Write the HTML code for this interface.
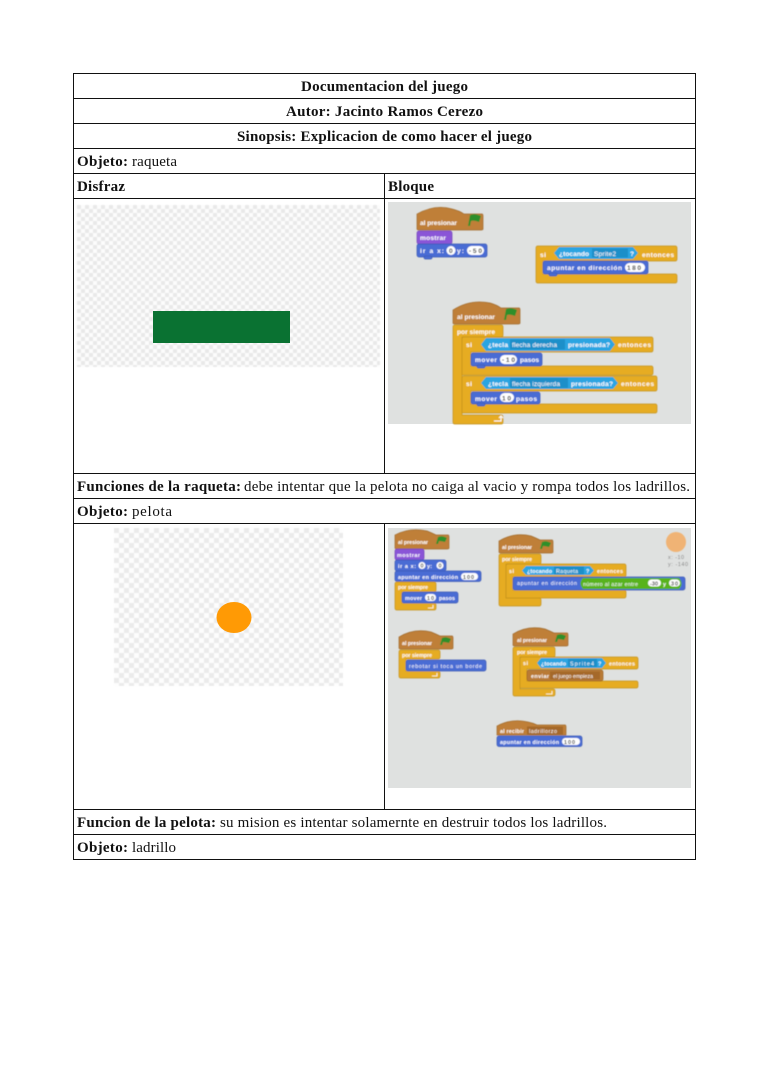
<!DOCTYPE html>
<html><head><meta charset="utf-8"><style>
html,body{margin:0;padding:0;background:#fff}
svg{display:block}
.t{font-family:"Liberation Serif",serif;font-size:15px;fill:#111}
.b{font-weight:bold}
.s text{font-family:"Liberation Sans",sans-serif;font-weight:bold;font-size:6.6px;fill:#fff}
.s2 text{font-family:"Liberation Sans",sans-serif;font-weight:bold;font-size:5.4px;fill:#fff}
.s text.n,.s2 text.n{font-weight:normal}
text.d{fill:#333!important}
text.g{fill:#8a8a8a!important;font-weight:normal!important}
path[fill="#e6ac22"]{stroke:#c4921b;stroke-width:.7}
path[fill="#bf7f37"]{stroke:#a06a2c;stroke-width:.7}
rect[fill="#4a6cd4"]{stroke:#3d5ab5;stroke-width:.7}
rect[fill="#8a55d7"]{stroke:#7445bb;stroke-width:.7}
rect[fill="#b97a35"]{stroke:#9c662b;stroke-width:.7}
</style></head><body>
<svg width="768" height="1087" viewBox="0 0 768 1087" xmlns="http://www.w3.org/2000/svg">
<defs>
<pattern id="c1" width="8" height="8" patternUnits="userSpaceOnUse" x="77" y="205"><rect width="8" height="8" fill="#fcfcfc"/><rect width="4" height="4" fill="#e9e9e9"/><rect x="4" y="4" width="4" height="4" fill="#e9e9e9"/></pattern>
<pattern id="c2" width="10" height="10" patternUnits="userSpaceOnUse" x="114" y="528"><rect width="10" height="10" fill="#fdfdfd"/><rect width="5" height="5" fill="#ebebeb"/><rect x="5" y="5" width="5" height="5" fill="#ebebeb"/></pattern>
<filter id="bl" x="-2%" y="-2%" width="104%" height="104%"><feGaussianBlur stdDeviation="0.4"/></filter>
<filter id="bm" x="-2%" y="-2%" width="104%" height="104%"><feGaussianBlur stdDeviation="0.6"/></filter>
</defs>
<rect width="768" height="1087" fill="#fff"/>

<!-- images -->
<rect x="77" y="205" width="303" height="162" fill="url(#c1)" filter="url(#bl)"/>
<rect x="153" y="311" width="137" height="32" fill="#0a7232"/>
<rect x="114" y="528" width="229" height="158" fill="url(#c2)" filter="url(#bl)"/>
<ellipse cx="234" cy="617.500" rx="17.500" ry="15.500" fill="#ff9a05"/>

<!-- blocks 1 -->
<rect x="388" y="202" width="303" height="222" fill="#dfe1e0"/>
<g class="s" filter="url(#bl)">
<path d="M417 214 Q435 204 452 209 Q460 211 464 214 H482 Q483 214 483 216 V229 Q483 230 481 230 H419 Q417 230 417 229Z" fill="#bf7f37"/>
<text x="420" y="225" textLength="37">al presionar</text>
<path d="M468 226 L470 215 Q475 213 481 216 L479 222 Q474 220 471 221 L470 226Z" fill="#2f8f2b"/>
<rect x="417" y="231" width="35" height="13" rx="2" fill="#8a55d7"/>
<text x="420" y="240" textLength="26">mostrar</text>
<rect x="417" y="244" width="70" height="13" rx="2" fill="#4a6cd4"/>
<rect x="424" y="256" width="8" height="3" rx="1.500" fill="#4a6cd4"/>
<text x="420" y="253" textLength="24">ir a x:</text>
<circle cx="451" cy="250.500" r="4.500" fill="#fff"/><text class="d" x="449" y="253" textLength="4">0</text>
<text x="457" y="253" textLength="7">y:</text>
<rect x="467" y="246" width="17" height="9" rx="4.500" fill="#fff"/><text class="d" x="469" y="253" textLength="13">-50</text>

<path d="M536 248 Q536 246 538 246 H675 Q677 246 677 248 V259 Q677 261 675 261 H543 V274 H675 Q677 274 677 276 V281 Q677 283 675 283 H538 Q536 283 536 281Z" fill="#e6ac22"/>
<text x="540" y="257" textLength="6">si</text>
<path d="M554 253 L559 247 H633 L638 253 L633 259 H559Z" fill="#2ca5e2"/>
<text x="559" y="256" textLength="30">¿tocando</text>
<rect x="592" y="248.500" width="36" height="9" fill="#1f8fc9"/><text class="n" x="594" y="256" textLength="22">Sprite2</text>
<text x="630" y="256" textLength="4">?</text>
<text x="642" y="257" textLength="32">entonces</text>
<rect x="543" y="261" width="105" height="13" rx="2" fill="#4a6cd4"/>
<rect x="549" y="273" width="8" height="3" rx="1.500" fill="#4a6cd4"/>
<text x="547" y="270" textLength="75">apuntar en dirección</text>
<rect x="625" y="263" width="20" height="9" rx="4.500" fill="#fff"/><text class="d" x="627" y="270" textLength="14">180</text>

<path d="M453 310 Q470 299 490 303 Q497 305 501 308 H519 Q520 308 520 310 V323 Q520 324 518 324 H455 Q453 324 453 323Z" fill="#bf7f37"/>
<text x="457" y="319" textLength="38">al presionar</text>
<path d="M504 320 L506 309 Q511 307 517 310 L515 316 Q510 314 507 315 L506 320Z" fill="#2f8f2b"/>
<path d="M453 327 Q453 325 455 325 H501 Q503 325 503 327 V335 Q503 337 501 337 H462 V415 H501 Q503 415 503 417 V422 Q503 424 501 424 H455 Q453 424 453 422Z" fill="#e6ac22"/>
<text x="457" y="334" textLength="38">por siempre</text>
<path d="M462 339 Q462 337 464 337 H651 Q653 337 653 339 V350 Q653 352 651 352 H471 V366 H651 Q653 366 653 368 V373 Q653 375 651 375 H462Z" fill="#e6ac22"/>
<text x="466" y="347" textLength="6">si</text>
<path d="M481 344.500 L486 338 H610 L615 344.500 L610 351 H486Z" fill="#2ca5e2"/>
<text x="488" y="347" textLength="20">¿tecla</text>
<rect x="510" y="339.500" width="55" height="10" fill="#1f8fc9"/><text class="n" x="512" y="347" textLength="45">flecha derecha</text>
<text x="568" y="347" textLength="42">presionada?</text>
<text x="618" y="347" textLength="33">entonces</text>
<rect x="471" y="353" width="71" height="13" rx="2" fill="#4a6cd4"/>
<rect x="477" y="365" width="8" height="3" rx="1.500" fill="#4a6cd4"/>
<text x="475" y="362" textLength="22">mover</text>
<rect x="500" y="355" width="17" height="9" rx="4.500" fill="#fff"/><text class="d" x="502" y="362" textLength="13">-10</text>
<text x="520" y="362" textLength="19">pasos</text>
<path d="M462 378 Q462 376 464 376 H655 Q657 376 657 378 V389 Q657 391 655 391 H471 V404 H655 Q657 404 657 406 V411 Q657 413 655 413 H462Z" fill="#e6ac22"/>
<text x="466" y="386" textLength="6">si</text>
<path d="M481 383 L486 377 H613 L618 383 L613 389 H486Z" fill="#2ca5e2"/>
<text x="488" y="386" textLength="20">¿tecla</text>
<rect x="510" y="378" width="58" height="10" fill="#1f8fc9"/><text class="n" x="512" y="386" textLength="48">flecha izquierda</text>
<text x="571" y="386" textLength="42">presionada?</text>
<text x="621" y="386" textLength="33">entonces</text>
<rect x="471" y="392" width="69" height="12" rx="2" fill="#4a6cd4"/>
<rect x="477" y="403" width="8" height="3" rx="1.500" fill="#4a6cd4"/>
<text x="475" y="401" textLength="22">mover</text>
<rect x="500" y="393" width="14" height="9" rx="4.500" fill="#fff"/><text class="d" x="502" y="400.500" textLength="9">10</text>
<text x="516" y="401" textLength="21">pasos</text>
<path d="M494 421 H501 V417 M499 418 L501 416 L503 418" fill="none" stroke="#fff" stroke-width="1"/>
</g>

<!-- blocks 2 -->
<rect x="388" y="528" width="303" height="260" fill="#dfe1e0"/>
<g class="s2" filter="url(#bl)">
<circle cx="676" cy="542" r="10" fill="#f0b374"/>
<text class="g" x="668" y="559" textLength="16">x: -10</text>
<text class="g" x="668" y="566" textLength="20">y: -140</text>

<path d="M395 535 Q410 527 427 531 Q432 533 436 535 H448 Q449 535 449 537 V548 Q449 549 447 549 H397 Q395 549 395 548Z" fill="#bf7f37"/>
<text x="398" y="544" textLength="30">al presionar</text>
<path d="M436 544 L438 537 Q442 535 447 538 L445 542 Q441 541 439 541 L438 544Z" fill="#2f8f2b"/>
<rect x="395" y="549" width="29" height="11" rx="2" fill="#8a55d7"/>
<text x="397" y="557" textLength="23">mostrar</text>
<rect x="395" y="560" width="51" height="11" rx="2" fill="#4a6cd4"/>
<text x="398" y="568" textLength="18">ir a x:</text>
<circle cx="422" cy="565.500" r="3.500" fill="#fff"/><text class="d" x="420.500" y="567.500" textLength="3">0</text>
<text x="427" y="568" textLength="5">y:</text>
<circle cx="440" cy="565.500" r="3.500" fill="#fff"/><text class="d" x="438.500" y="567.500" textLength="3">0</text>
<rect x="395" y="571" width="86" height="10.500" rx="2" fill="#4a6cd4"/>
<text x="398" y="579" textLength="60">apuntar en dirección</text>
<rect x="461" y="573" width="17" height="7" rx="3.500" fill="#fff"/><text class="d" x="463" y="579" textLength="11">100</text>
<path d="M395 584 Q395 582 397 582 H434 Q436 582 436 584 V590 Q436 592 434 592 H402 V603 H434 Q436 603 436 605 V608 Q436 610 434 610 H397 Q395 610 395 608Z" fill="#e6ac22"/>
<text x="398" y="589" textLength="30">por siempre</text>
<rect x="402" y="592" width="56" height="11" rx="2" fill="#4a6cd4"/>
<text x="405" y="600" textLength="17">mover</text>
<rect x="425" y="594" width="11" height="7" rx="3.500" fill="#fff"/><text class="d" x="427" y="600" textLength="7">10</text>
<text x="439" y="600" textLength="16">pasos</text>
<path d="M428 608 H433 V605" fill="none" stroke="#fff" stroke-width=".8"/>

<path d="M499 541 Q514 532 531 536 Q536 538 540 540 H552 Q553 540 553 542 V552 Q553 553 551 553 H501 Q499 553 499 552Z" fill="#bf7f37"/>
<text x="502" y="549" textLength="30">al presionar</text>
<path d="M540 549 L542 542 Q546 540 551 543 L549 547 Q545 546 543 546 L542 549Z" fill="#2f8f2b"/>
<path d="M499 556 Q499 554 501 554 H539 Q541 554 541 556 V562 Q541 564 539 564 H506 V598 H539 Q541 598 541 600 V604 Q541 606 539 606 H501 Q499 606 499 604Z" fill="#e6ac22"/>
<text x="502" y="561" textLength="30">por siempre</text>
<path d="M506 566 Q506 564 508 564 H624 Q626 564 626 566 V575 Q626 577 624 577 H513 V590 H624 Q626 590 626 592 V596 Q626 598 624 598 H506Z" fill="#e6ac22"/>
<text x="509" y="573" textLength="5">si</text>
<path d="M522 570.500 L526 566 H590 L594 570.500 L590 575 H526Z" fill="#2ca5e2"/>
<text x="527" y="573" textLength="25">¿tocando</text>
<rect x="554" y="566.500" width="30" height="8" fill="#1f8fc9"/><text class="n" x="556" y="573" textLength="22">Raqueta</text>
<text x="586" y="573" textLength="4">?</text>
<text x="597" y="573" textLength="26">entonces</text>
<rect x="513" y="577" width="172" height="13" rx="2" fill="#4a6cd4"/>
<text class="n" x="517" y="585" textLength="60">apuntar en dirección</text>
<path d="M584 578 H657 Q662 583 657 588 H584 Q579 583 584 578Z" fill="#59b31c"/>
<path d="M584 578 H680 Q685 584 680 589 H584 Q579 583 584 578Z" fill="#59b31c" transform="translate(-1,0)"/>
<text class="n" x="583" y="586" textLength="55">número al azar entre</text>
<rect x="648" y="579.500" width="13" height="7" rx="3.500" fill="#fff"/><text class="d" x="650" y="585.500" textLength="8">-30</text>
<text x="663" y="586" textLength="3">y</text>
<rect x="669" y="579.500" width="11" height="7" rx="3.500" fill="#fff"/><text class="d" x="671" y="585.500" textLength="7">30</text>

<path d="M399 637 Q414 628 431 632 Q436 634 440 636 H452 Q453 636 453 638 V648 Q453 649 451 649 H401 Q399 649 399 648Z" fill="#bf7f37"/>
<text x="402" y="645" textLength="30">al presionar</text>
<path d="M440 645 L442 638 Q446 636 451 639 L449 643 Q445 642 443 642 L442 645Z" fill="#2f8f2b"/>
<path d="M399 652 Q399 650 401 650 H438 Q440 650 440 652 V657 Q440 659 438 659 H406 V671 H438 Q440 671 440 673 V676 Q440 678 438 678 H401 Q399 678 399 676Z" fill="#e6ac22"/>
<text x="402" y="657" textLength="30">por siempre</text>
<rect x="406" y="660" width="80" height="11" rx="2" fill="#4a6cd4"/>
<text class="n" x="409" y="668" textLength="73">rebotar si toca un borde</text>
<path d="M432 676 H437 V673" fill="none" stroke="#fff" stroke-width=".8"/>

<path d="M513 634 Q528 625 545 629 Q550 631 554 633 H567 Q568 633 568 635 V645 Q568 646 566 646 H515 Q513 646 513 645Z" fill="#bf7f37"/>
<text x="517" y="642" textLength="30">al presionar</text>
<path d="M555 642 L557 635 Q561 633 566 636 L564 640 Q560 639 558 639 L557 642Z" fill="#2f8f2b"/>
<path d="M513 649 Q513 647 515 647 H553 Q555 647 555 649 V655 Q555 657 553 657 H520 V689 H553 Q555 689 555 691 V694 Q555 696 553 696 H515 Q513 696 513 694Z" fill="#e6ac22"/>
<text x="517" y="654" textLength="30">por siempre</text>
<path d="M520 659 Q520 657 522 657 H636 Q638 657 638 659 V667 Q638 669 636 669 H527 V681 H636 Q638 681 638 683 V686 Q638 688 636 688 H520Z" fill="#e6ac22"/>
<text x="523" y="665" textLength="5">si</text>
<path d="M537 663 L541 658 H602 L606 663 L602 668 H541Z" fill="#2ca5e2"/>
<text x="541" y="665.500" textLength="25">¿tocando</text>
<rect x="568" y="659" width="29" height="8" fill="#1f8fc9"/><text class="n" x="570" y="665.500" textLength="24">Sprite4</text>
<text x="598" y="665.500" textLength="4">?</text>
<text x="609" y="665.500" textLength="26">entonces</text>
<rect x="527" y="670" width="76" height="11" rx="2" fill="#b97a35"/>
<text x="531" y="678" textLength="18">enviar</text>
<rect x="550" y="671.500" width="50" height="8" fill="#a5692a"/><text class="n" x="553" y="678" textLength="40">el juego empieza</text>
<path d="M546 694 H552 V691" fill="none" stroke="#fff" stroke-width=".8"/>

<path d="M497 726 Q512 718 528 722 Q533 723 537 725 H565 Q566 725 566 727 V735 H497Z" fill="#bf7f37"/>
<text x="500" y="733" textLength="24">al recibir</text>
<rect x="527" y="726.500" width="36" height="8" fill="#a5692a"/><text class="n" x="529" y="733" textLength="28">ladrillorzo</text>
<rect x="497" y="736" width="85" height="10.500" rx="2" fill="#4a6cd4"/>
<text x="500" y="744" textLength="59">apuntar en dirección</text>
<rect x="562" y="738" width="18" height="7" rx="3.500" fill="#fff"/><text class="d" x="564" y="744" textLength="11">100</text>
</g>

<!-- table -->
<g stroke="#111" stroke-width="1" fill="none" shape-rendering="crispEdges">
<rect x="73.500" y="73.500" width="622" height="786"/>
<path d="M73 98.500H696M73 123.500H696M73 148.500H696M73 173.500H696M73 198.500H696M73 473.500H696M73 498.500H696M73 523.500H696M73 809.500H696M73 834.500H696M384.500 173V473M384.500 523V809"/>
</g>
<g class="t">
<text class="b" x="301" y="91" textLength="167">Documentacion del juego</text>
<text class="b" x="286" y="116" textLength="197">Autor: Jacinto Ramos Cerezo</text>
<text class="b" x="237" y="141" textLength="295">Sinopsis: Explicacion de como hacer el juego</text>
<text class="b" x="77" y="166" textLength="51">Objeto:</text><text x="132" y="166" textLength="45">raqueta</text>
<text class="b" x="77" y="191" textLength="48">Disfraz</text>
<text class="b" x="388" y="191" textLength="46">Bloque</text>
<text class="b" x="77" y="491" textLength="164">Funciones de la raqueta:</text><text x="244" y="491" textLength="446">debe intentar que la pelota no caiga al vacio y rompa todos los ladrillos.</text>
<text class="b" x="77" y="516" textLength="51">Objeto:</text><text x="132" y="516" textLength="40">pelota</text>
<text class="b" x="77" y="827" textLength="139">Funcion de la pelota:</text><text x="220" y="827" textLength="387">su mision es intentar solamernte en destruir todos los ladrillos.</text>
<text class="b" x="77" y="852" textLength="51">Objeto:</text><text x="132" y="852" textLength="44">ladrillo</text>
</g>
</svg>
</body></html>
